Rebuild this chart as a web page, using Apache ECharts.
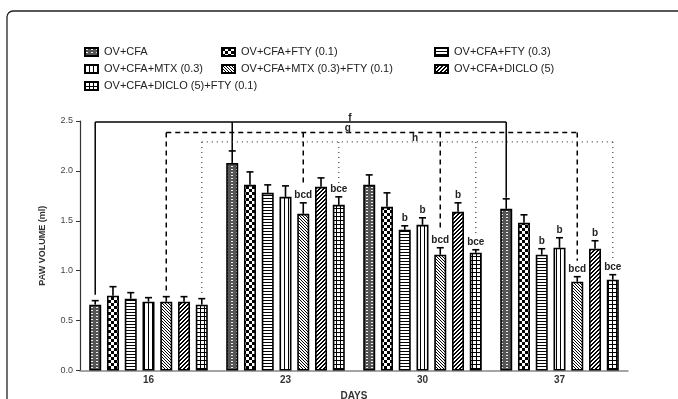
<!DOCTYPE html>
<html>
<head>
<meta charset="utf-8">
<script src="https://cdn.jsdelivr.net/npm/echarts@6/dist/echarts.min.js"></script>
<style>
  html, body { margin: 0; padding: 0; background: #fff; }
  #chart { width: 678px; height: 399px; }
</style>
</head>
<body>
<div id="chart"></div>
<script>
// ---- data ----
const days = ['16', '23', '30', '37'];
const groups = [
  'OV+CFA',
  'OV+CFA+FTY (0.1)',
  'OV+CFA+FTY (0.3)',
  'OV+CFA+MTX (0.3)',
  'OV+CFA+MTX (0.3)+FTY (0.1)',
  'OV+CFA+DICLO (5)',
  'OV+CFA+DICLO (5)+FTY (0.1)'
];
const ovCfa        = [0.66, 2.08, 1.86, 1.62];
const ovCfaFty01   = [0.75, 1.86, 1.64, 1.48];
const ovCfaFty03   = [0.72, 1.78, 1.41, 1.16];
const ovCfaMtx     = [0.69, 1.74, 1.46, 1.23];
const ovCfaMtxFty  = [0.69, 1.57, 1.16, 0.89];
const ovCfaDiclo   = [0.69, 1.84, 1.59, 1.22];
const ovCfaDicloFty= [0.66, 1.66, 1.18, 0.91];

const errOvCfa        = [0.04, 0.12, 0.10, 0.10];
const errOvCfaFty01   = [0.09, 0.13, 0.14, 0.08];
const errOvCfaFty03   = [0.06, 0.08, 0.04, 0.06];
const errOvCfaMtx     = [0.04, 0.11, 0.07, 0.10];
const errOvCfaMtxFty  = [0.05, 0.11, 0.07, 0.05];
const errOvCfaDiclo   = [0.05, 0.09, 0.09, 0.08];
const errOvCfaDicloFty= [0.06, 0.08, 0.03, 0.05];

// significance letters above each bar
const sigOvCfa        = ['', '', '', ''];
const sigOvCfaFty01   = ['', '', '', ''];
const sigOvCfaFty03   = ['', '', 'b', 'b'];
const sigOvCfaMtx     = ['', '', 'b', 'b'];
const sigOvCfaMtxFty  = ['', 'bcd', 'bcd', 'bcd'];
const sigOvCfaDiclo   = ['', '', 'b', 'b'];
const sigOvCfaDicloFty= ['', 'bce', 'bce', 'bce'];

// comparison brackets: letter, group index, level, days joined, where each drop ends
const bracketLetters = ['f', 'g', 'h'];
const bracketGroup   = [0, 4, 6];
const bracketLevel   = [2.49, 2.385, 2.29];
const bracketDays    = [[0, 1, 3], [0, 1, 2, 3], [0, 1, 2, 3]];
const bracketEnds    = [[0.76, 2.2, 1.73], [0.77, 1.85, 1.41, 1.1], [0.76, 1.86, 1.36, 1.11]];
const bracketLabelAt = [1.47, 1.455, 1.945]; // position along the day axis

const yTicks = [0, 0.5, 1.0, 1.5, 2.0, 2.5];

const means = [ovCfa, ovCfaFty01, ovCfaFty03, ovCfaMtx, ovCfaMtxFty, ovCfaDiclo, ovCfaDicloFty];
const errs  = [errOvCfa, errOvCfaFty01, errOvCfaFty03, errOvCfaMtx, errOvCfaMtxFty, errOvCfaDiclo, errOvCfaDicloFty];
const sigs  = [sigOvCfa, sigOvCfaFty01, sigOvCfaFty03, sigOvCfaMtx, sigOvCfaMtxFty, sigOvCfaDiclo, sigOvCfaDicloFty];

// ---- fill patterns ----
function pattern(w, h, draw) {
  const c = document.createElement('canvas');
  c.width = w; c.height = h;
  const ctx = c.getContext('2d');
  ctx.fillStyle = '#fff';
  ctx.fillRect(0, 0, w, h);
  draw(ctx);
  return { image: c, repeat: 'repeat' };
}
const fills = [
  pattern(5, 3, ctx => { ctx.fillStyle = '#555'; ctx.fillRect(0, 0, 5, 3); ctx.fillStyle = '#eee'; ctx.fillRect(1, 1, 2, 1); }),
  pattern(6, 6, ctx => { ctx.fillStyle = '#000'; ctx.fillRect(0, 0, 3, 3); ctx.fillRect(3, 3, 3, 3); }),
  pattern(1, 3, ctx => { ctx.fillStyle = '#000'; ctx.fillRect(0, 0, 1, 1); }),
  pattern(4, 1, ctx => { ctx.fillStyle = '#000'; ctx.fillRect(0, 0, 1, 1); }),
  pattern(3, 3, ctx => { ctx.fillStyle = '#000'; for (let i = 0; i < 3; i++) ctx.fillRect(i, i, 1, 1); }),
  pattern(4, 4, ctx => { ctx.fillStyle = '#000'; for (let i = 0; i < 4; i++) { ctx.fillRect(3 - i, i, 1, 1); ctx.fillRect((4 - i) % 4, i, 1, 1); } }),
  pattern(4, 4, ctx => { ctx.fillStyle = '#000'; ctx.fillRect(0, 0, 4, 1); ctx.fillRect(0, 0, 1, 4); })
];

// ---- bar geometry shared by bars, error bars and brackets ----
const BAR_W = 12;
const BAR_GAP = 0.48;
const PITCH = BAR_W * (1 + BAR_GAP);
function barOffset(i) { return (i - (groups.length - 1) / 2) * PITCH; }
function xOf(api, day, g) { return api.coord([day, 0])[0] + barOffset(g); }

const FONT = 'Liberation Sans, Arial, sans-serif';

const barSeries = groups.map((name, g) => ({
  name,
  type: 'bar',
  data: means[g],
  barWidth: BAR_W,
  barGap: (BAR_GAP * 100) + '%',
  itemStyle: { color: fills[g], borderColor: '#000', borderWidth: 1.6 },
  emphasis: { disabled: true },
  animation: false,
  z: 2
}));

// error bars + letters
const errData = [];
groups.forEach((_, g) => days.forEach((_, d) => errData.push([d, means[g][d], errs[g][d], g, sigs[g][d]])));

const errSeries = {
  type: 'custom',
  data: errData,
  encode: { x: 0, y: 1 },
  clip: false,
  z: 5,
  silent: true,
  animation: false,
  renderItem(params, api) {
    const d = api.value(0), m = api.value(1), e = api.value(2), g = api.value(3);
    const x = xOf(api, d, g);
    const y0 = api.coord([d, m])[1];
    const y1 = api.coord([d, m + e])[1];
    const children = [
      { type: 'line', shape: { x1: x, y1: y0, x2: x, y2: y1 }, style: { stroke: '#000', lineWidth: 1.6 } },
      { type: 'line', shape: { x1: x - 3.5, y1: y1, x2: x + 3.5, y2: y1 }, style: { stroke: '#000', lineWidth: 1.6 } }
    ];
    const letters = errData[params.dataIndex][4];
    if (letters) {
      children.push({
        type: 'text',
        style: { text: letters, x: x, y: y1 - 2.5, align: 'center', verticalAlign: 'bottom',
                 font: 'bold 10px ' + FONT, fill: '#222' }
      });
    }
    return { type: 'group', children };
  }
};

// comparison brackets
const bracketStyles = [
  { stroke: '#000', lineWidth: 1.5 },
  { stroke: '#000', lineWidth: 1.5, lineDash: [5, 4] },
  { stroke: '#444', lineWidth: 1.2, lineDash: [1, 4] }
];
const bracketSeries = {
  type: 'custom',
  data: bracketLetters.map((_, b) => [b, bracketLevel[b]]),
  encode: { x: 0, y: 1 },
  clip: false,
  z: 4,
  silent: true,
  animation: false,
  renderItem(params, api) {
    const b = params.dataIndex;
    const g = bracketGroup[b];
    const yTop = api.coord([0, bracketLevel[b]])[1];
    const xs = bracketDays[b].map(d => xOf(api, d, g));
    const style = bracketStyles[b];
    const children = [
      { type: 'line', shape: { x1: xs[0], y1: yTop, x2: xs[xs.length - 1], y2: yTop }, style }
    ];
    bracketDays[b].forEach((d, k) => {
      const yEnd = api.coord([d, bracketEnds[b][k]])[1];
      children.push({ type: 'line', shape: { x1: xs[k], y1: yTop, x2: xs[k], y2: yEnd }, style });
    });
    const pos = bracketLabelAt[b];
    const c0 = api.coord([Math.floor(pos), 0])[0];
    const c1 = api.coord([Math.floor(pos) + 1, 0])[0];
    const lx = c0 + (c1 - c0) * (pos - Math.floor(pos));
    children.push({
      type: 'text',
      style: { text: bracketLetters[b], x: lx, y: yTop + 1, align: 'center', verticalAlign: 'bottom',
               font: 'bold 10px ' + FONT, fill: '#222' }
    });
    return { type: 'group', children };
  }
};

const legendBase = {
  orient: 'vertical',
  icon: 'rect',
  itemWidth: 13,
  itemHeight: 8,
  itemGap: 5,
  padding: 0,
  selectedMode: false,
  textStyle: { fontFamily: FONT, fontSize: 11, color: '#222', lineHeight: 12, padding: [0, 0, 0, 1] }
};

const option = {
  backgroundColor: '#fff',
  animation: false,
  textStyle: { fontFamily: FONT },
  grid: { left: 80, right: 50, top: 121, bottom: 28.5, outerBoundsMode: 'none', containLabel: false },
  legend: [
    Object.assign({}, legendBase, { left: 84, top: 46, data: [groups[0], groups[3], groups[6]] }),
    Object.assign({}, legendBase, { left: 221, top: 46, data: [groups[1], groups[4]] }),
    Object.assign({}, legendBase, { left: 434, top: 46, data: [groups[2], groups[5]] })
  ],
  xAxis: {
    type: 'category',
    data: days,
    name: 'DAYS',
    nameLocation: 'middle',
    nameGap: 21,
    nameTextStyle: { fontFamily: FONT, fontSize: 10, fontWeight: 'bold', color: '#333' },
    axisLine: { lineStyle: { color: '#888', width: 1.5 } },
    axisTick: { alignWithLabel: true, length: 3, lineStyle: { color: '#000', width: 1.5 } },
    axisLabel: { fontFamily: FONT, fontSize: 10, fontWeight: 'bold', color: '#333', margin: 5 }
  },
  yAxis: {
    type: 'value',
    min: yTicks[0],
    max: yTicks[yTicks.length - 1],
    interval: 0.5,
    name: 'PAW VOLUME (ml)',
    nameLocation: 'middle',
    nameGap: 33,
    nameTextStyle: { fontFamily: FONT, fontSize: 9, fontWeight: 'bold', color: '#333' },
    splitLine: { show: false },
    axisLine: { show: true, lineStyle: { color: '#333', width: 1.2 } },
    axisTick: { show: true, length: 4, lineStyle: { color: '#333' } },
    axisLabel: { fontFamily: FONT, fontSize: 9, color: '#444', margin: 7, formatter: v => v.toFixed(1) }
  },
  graphic: [{
    type: 'rect',
    shape: { x: 7, y: 11, width: 720, height: 450, r: 6 },
    style: { fill: 'none', stroke: '#222', lineWidth: 1.3 },
    silent: true,
    z: 100
  }],
  series: barSeries.concat([errSeries, bracketSeries])
};

const chart = echarts.init(document.getElementById('chart'), null, { renderer: 'canvas' });
chart.setOption(option);
</script>
</body>
</html>
